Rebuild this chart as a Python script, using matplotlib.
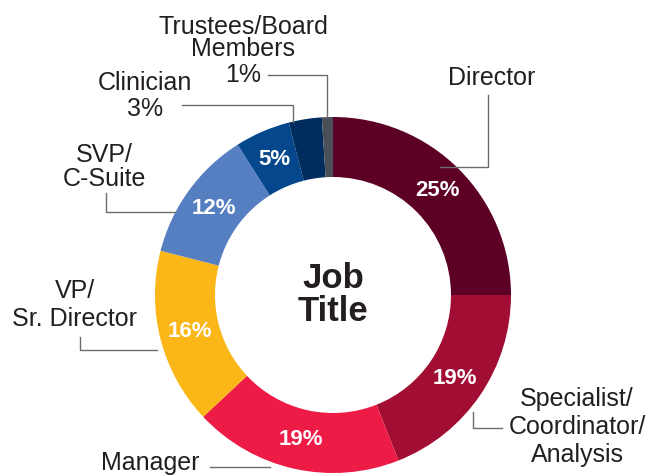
import matplotlib
matplotlib.use('Agg')
import matplotlib.pyplot as plt

# Datos
categorias = ['Director', 'Specialist/\nCoordinator/\nAnalysis', 'Manager', 'VP/\nSr. Director',
              'SVP/\nC-Suite', '', 'Clinician', 'Trustees/Board\nMembers']
valores = [25, 19, 19, 16, 12, 5, 3, 1]
colores = ['#5d0025', '#a20d33', '#ee1b46', '#fbb617', '#567fc2', '#04478d', '#002d5e', '#4b4f57']

plt.rcParams['font.family'] = ['Liberation Sans', 'DejaVu Sans']
W, H = 654, 476
texto = '#231f20'
linea = '#6d6d6d'

fig = plt.figure(figsize=(W / 100, H / 100), dpi=100)
ax = fig.add_axes([0, 0, 1, 1])


def Y(y):
    # coordenadas en pixeles desde arriba
    return H - y


ax.pie(valores, colors=colores, startangle=90, counterclock=False,
       radius=178, center=(333, Y(295)),
       wedgeprops=dict(width=60, linewidth=0),
       autopct=lambda p: f'{p:.0f}%' if p >= 4 else '', pctdistance=0.83,
       textprops=dict(color='white', fontsize=16, fontweight='bold'))
ax.set_xlim(0, W)
ax.set_ylim(0, H)
ax.set_aspect('equal')
ax.axis('off')

# Texto central
ax.text(333, Y(295), 'Job\nTitle', ha='center', va='center', fontsize=25,
        fontweight='bold', color=texto, linespacing=1.0)

# Etiquetas externas
kw = dict(fontsize=18, color=texto, ha='center', va='center')
ax.text(492, Y(78), categorias[0], **kw)
ax.text(577, Y(427), categorias[1], linespacing=1.22, **kw)
ax.text(150, Y(463), categorias[2], **kw)
ax.text(75, Y(305), categorias[3], linespacing=1.18, **kw)
ax.text(104, Y(167), categorias[4], linespacing=1.03, **kw)
ax.text(145, Y(96), f'{categorias[6]}\n{valores[6]}%', linespacing=1.13, **kw)
ax.text(243, Y(38), categorias[7], linespacing=0.94, **kw)
ax.text(243, Y(75), f'{valores[7]}%', **kw)

# Lineas guia
guias = [
    ([488, 488, 440], [95, 167, 167]),
    ([502, 473, 473], [428, 428, 412]),
    ([210, 270], [467, 467]),
    ([80, 80, 157], [337, 350, 350]),
    ([106, 106, 175], [193, 212, 212]),
    ([182, 293, 293], [105, 105, 122]),
    ([268, 327, 327], [75, 75, 117]),
]
for xs, ys in guias:
    ax.plot(xs, [Y(v) for v in ys], color=linea, linewidth=1)

plt.savefig('out.png', dpi=100)
